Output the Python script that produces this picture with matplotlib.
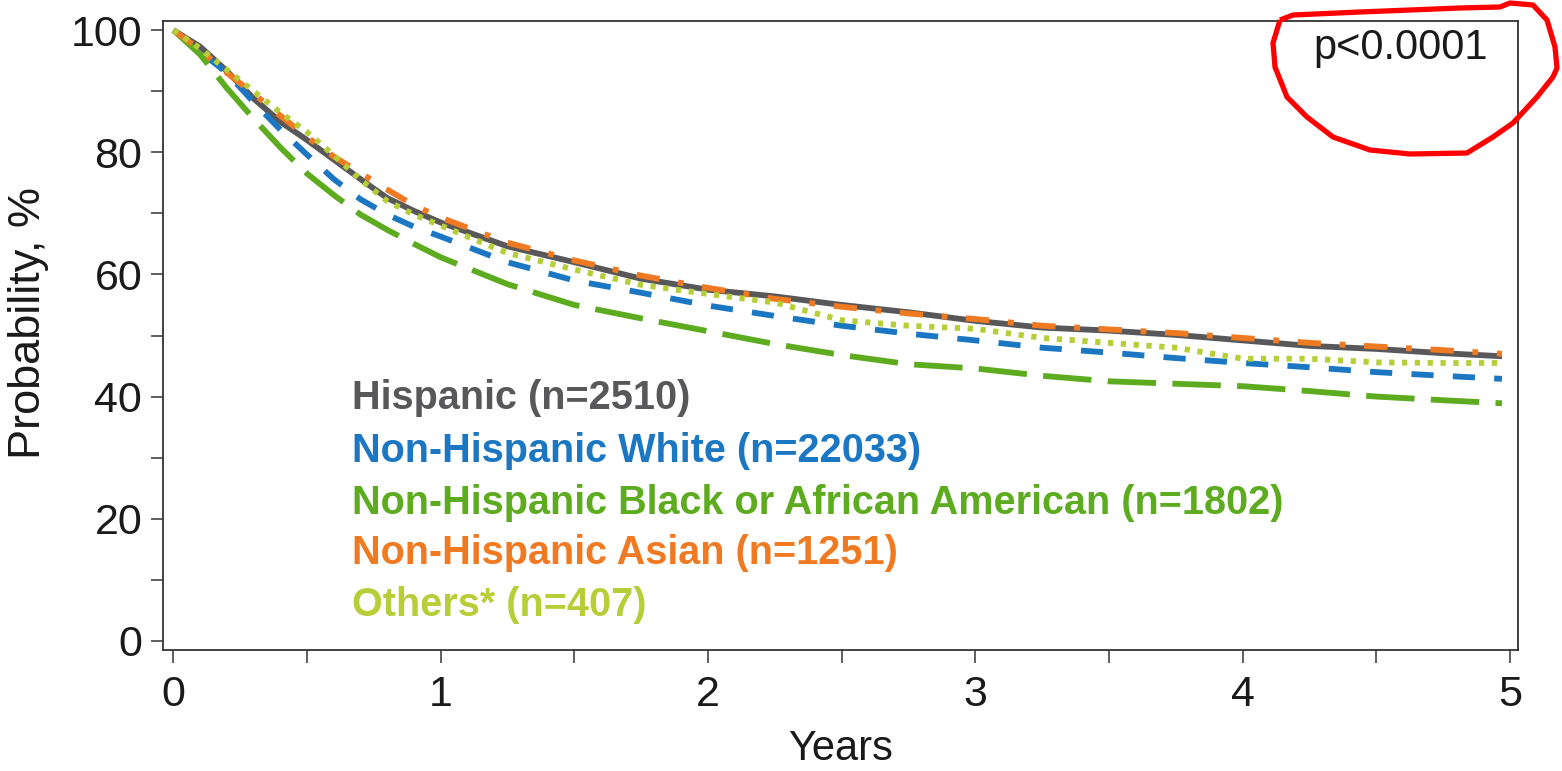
import matplotlib
matplotlib.use("Agg")
import matplotlib.pyplot as plt
from matplotlib.path import Path
from matplotlib.patches import PathPatch

plt.rcParams['font.family'] = ['Liberation Sans', 'DejaVu Sans']

years = [0, 0.1, 0.2, 0.3, 0.4, 0.5, 0.6, 0.7, 0.8, 0.9, 1.0, 1.25, 1.5, 1.75,
         2.0, 2.25, 2.5, 2.75, 3.0, 3.25, 3.5, 3.75, 4.0, 4.25, 4.5, 4.75, 4.97]

hispanic = [100, 97.3, 93.3, 88.8, 85.0, 82.0, 78.8, 75.6, 72.5, 70.4, 68.5, 64.6, 62.0, 59.3,
            57.5, 56.4, 55.0, 53.8, 52.4, 51.3, 50.8, 50.1, 49.2, 48.3, 47.8, 47.1, 46.6]
nh_white = [100, 96.5, 93.0, 88.2, 83.7, 79.6, 75.6, 72.3, 69.8, 67.8, 66.2, 62.0, 59.0, 57.0,
            54.9, 53.2, 51.6, 50.3, 49.2, 48.0, 47.2, 46.3, 45.5, 44.8, 44.0, 43.4, 42.9]
nh_black = [100, 96.0, 90.5, 85.5, 80.8, 76.5, 73.0, 69.8, 67.3, 65.0, 62.8, 58.4, 55.0, 52.8,
            50.7, 48.6, 46.8, 45.3, 44.6, 43.4, 42.5, 42.1, 41.7, 40.9, 40.0, 39.4, 38.9]
nh_asian = [100, 96.8, 93.0, 89.6, 86.0, 82.5, 79.3, 76.6, 73.9, 71.3, 69.3, 65.2, 62.3, 59.8,
            57.8, 56.0, 54.7, 53.6, 52.7, 51.6, 51.0, 50.4, 49.6, 48.8, 48.2, 47.6, 47.0]
others = [100, 97.0, 93.5, 90.0, 86.5, 83.3, 79.5, 75.5, 72.0, 69.8, 68.0, 63.5, 60.8, 58.3,
          56.8, 55.4, 52.5, 51.6, 51.1, 49.6, 48.8, 48.0, 46.2, 46.2, 45.6, 45.5, 45.5]

labels = ["Hispanic (n=2510)",
          "Non-Hispanic White (n=22033)",
          "Non-Hispanic Black or African American (n=1802)",
          "Non-Hispanic Asian (n=1251)",
          "Others* (n=407)"]
series = [hispanic, nh_white, nh_black, nh_asian, others]
colors = ["#58585a", "#1c77c3", "#5dab1f", "#f07a22", "#b7ce38"]
dashes = [None, (3.8, 3.3), (8.3, 2.8), (4.0, 3.2, 1.0, 3.2), (0.9, 1.3)]

W, H = 1562, 771
fig = plt.figure(figsize=(W / 100, H / 100), dpi=100, facecolor="white")
ax = fig.add_axes([163 / W, 1 - 650 / H, (1518 - 163) / W, (650 - 21) / H])

lw = 4.2
for vals, col, d in zip(series, colors, dashes):
    if d is None:
        ax.plot(years, vals, color=col, lw=lw, solid_capstyle="butt")
    else:
        ax.plot(years, vals, color=col, lw=lw, dashes=d, dash_capstyle="butt")

ax.set_xlim(-0.039, 5.03)
ax.set_ylim(-1.5, 101.5)
ax.set_xticks([0, 1, 2, 3, 4, 5])
ax.set_xticks([0.5, 1.5, 2.5, 3.5, 4.5], minor=True)
ax.set_yticks([0, 20, 40, 60, 80, 100])
ax.set_yticks([10, 30, 50, 70, 90], minor=True)
for s in ax.spines.values():
    s.set_color("#333333")
    s.set_linewidth(1.3)
ax.tick_params(which="both", direction="out", length=9, width=1.1, color="#333333",
               labelsize=31, labelcolor="#1a1a1a", pad=6)
ax.tick_params(axis="x", pad=9)
ax.set_xlabel("Years", fontsize=30, color="#1a1a1a", labelpad=10)
ax.set_ylabel("Probability, %", fontsize=32.5, color="#1a1a1a")
ax.yaxis.set_label_coords(-0.084, 0.52)

ys = [0.4006, 0.3164, 0.2337, 0.1542, 0.0715]
for lab, col, yy in zip(labels, colors, ys):
    ax.text(0.1395, yy, lab, transform=ax.transAxes, color=col, fontsize=28.5,
            fontweight="bold", va="center", ha="left")

ax.text(1488, H - 48, "p<0.0001", transform=None, fontsize=30, color="#1a1a1a",
        ha="right", va="center")

# hand-drawn red annotation loop (figure pixel coordinates, y from top)
loop = [(1280, 20), (1273, 43), (1275, 67), (1287, 97), (1307, 117), (1333, 137),
        (1370, 150), (1410, 154), (1467, 153), (1493, 137), (1513, 123), (1537, 97),
        (1553, 77), (1557, 68), (1555, 47), (1547, 20), (1533, 5), (1510, 3), (1500, 7),
        (1460, 8), (1360, 12), (1293, 15), (1280, 20)]
verts = [(x, H - y) for x, y in loop]
p = PathPatch(Path(verts), facecolor="none", edgecolor="#ff0000", lw=3.8,
              transform=None, clip_on=False, joinstyle="round")
fig.patches.append(p)

fig.savefig("out.png", dpi=100, facecolor="white")
